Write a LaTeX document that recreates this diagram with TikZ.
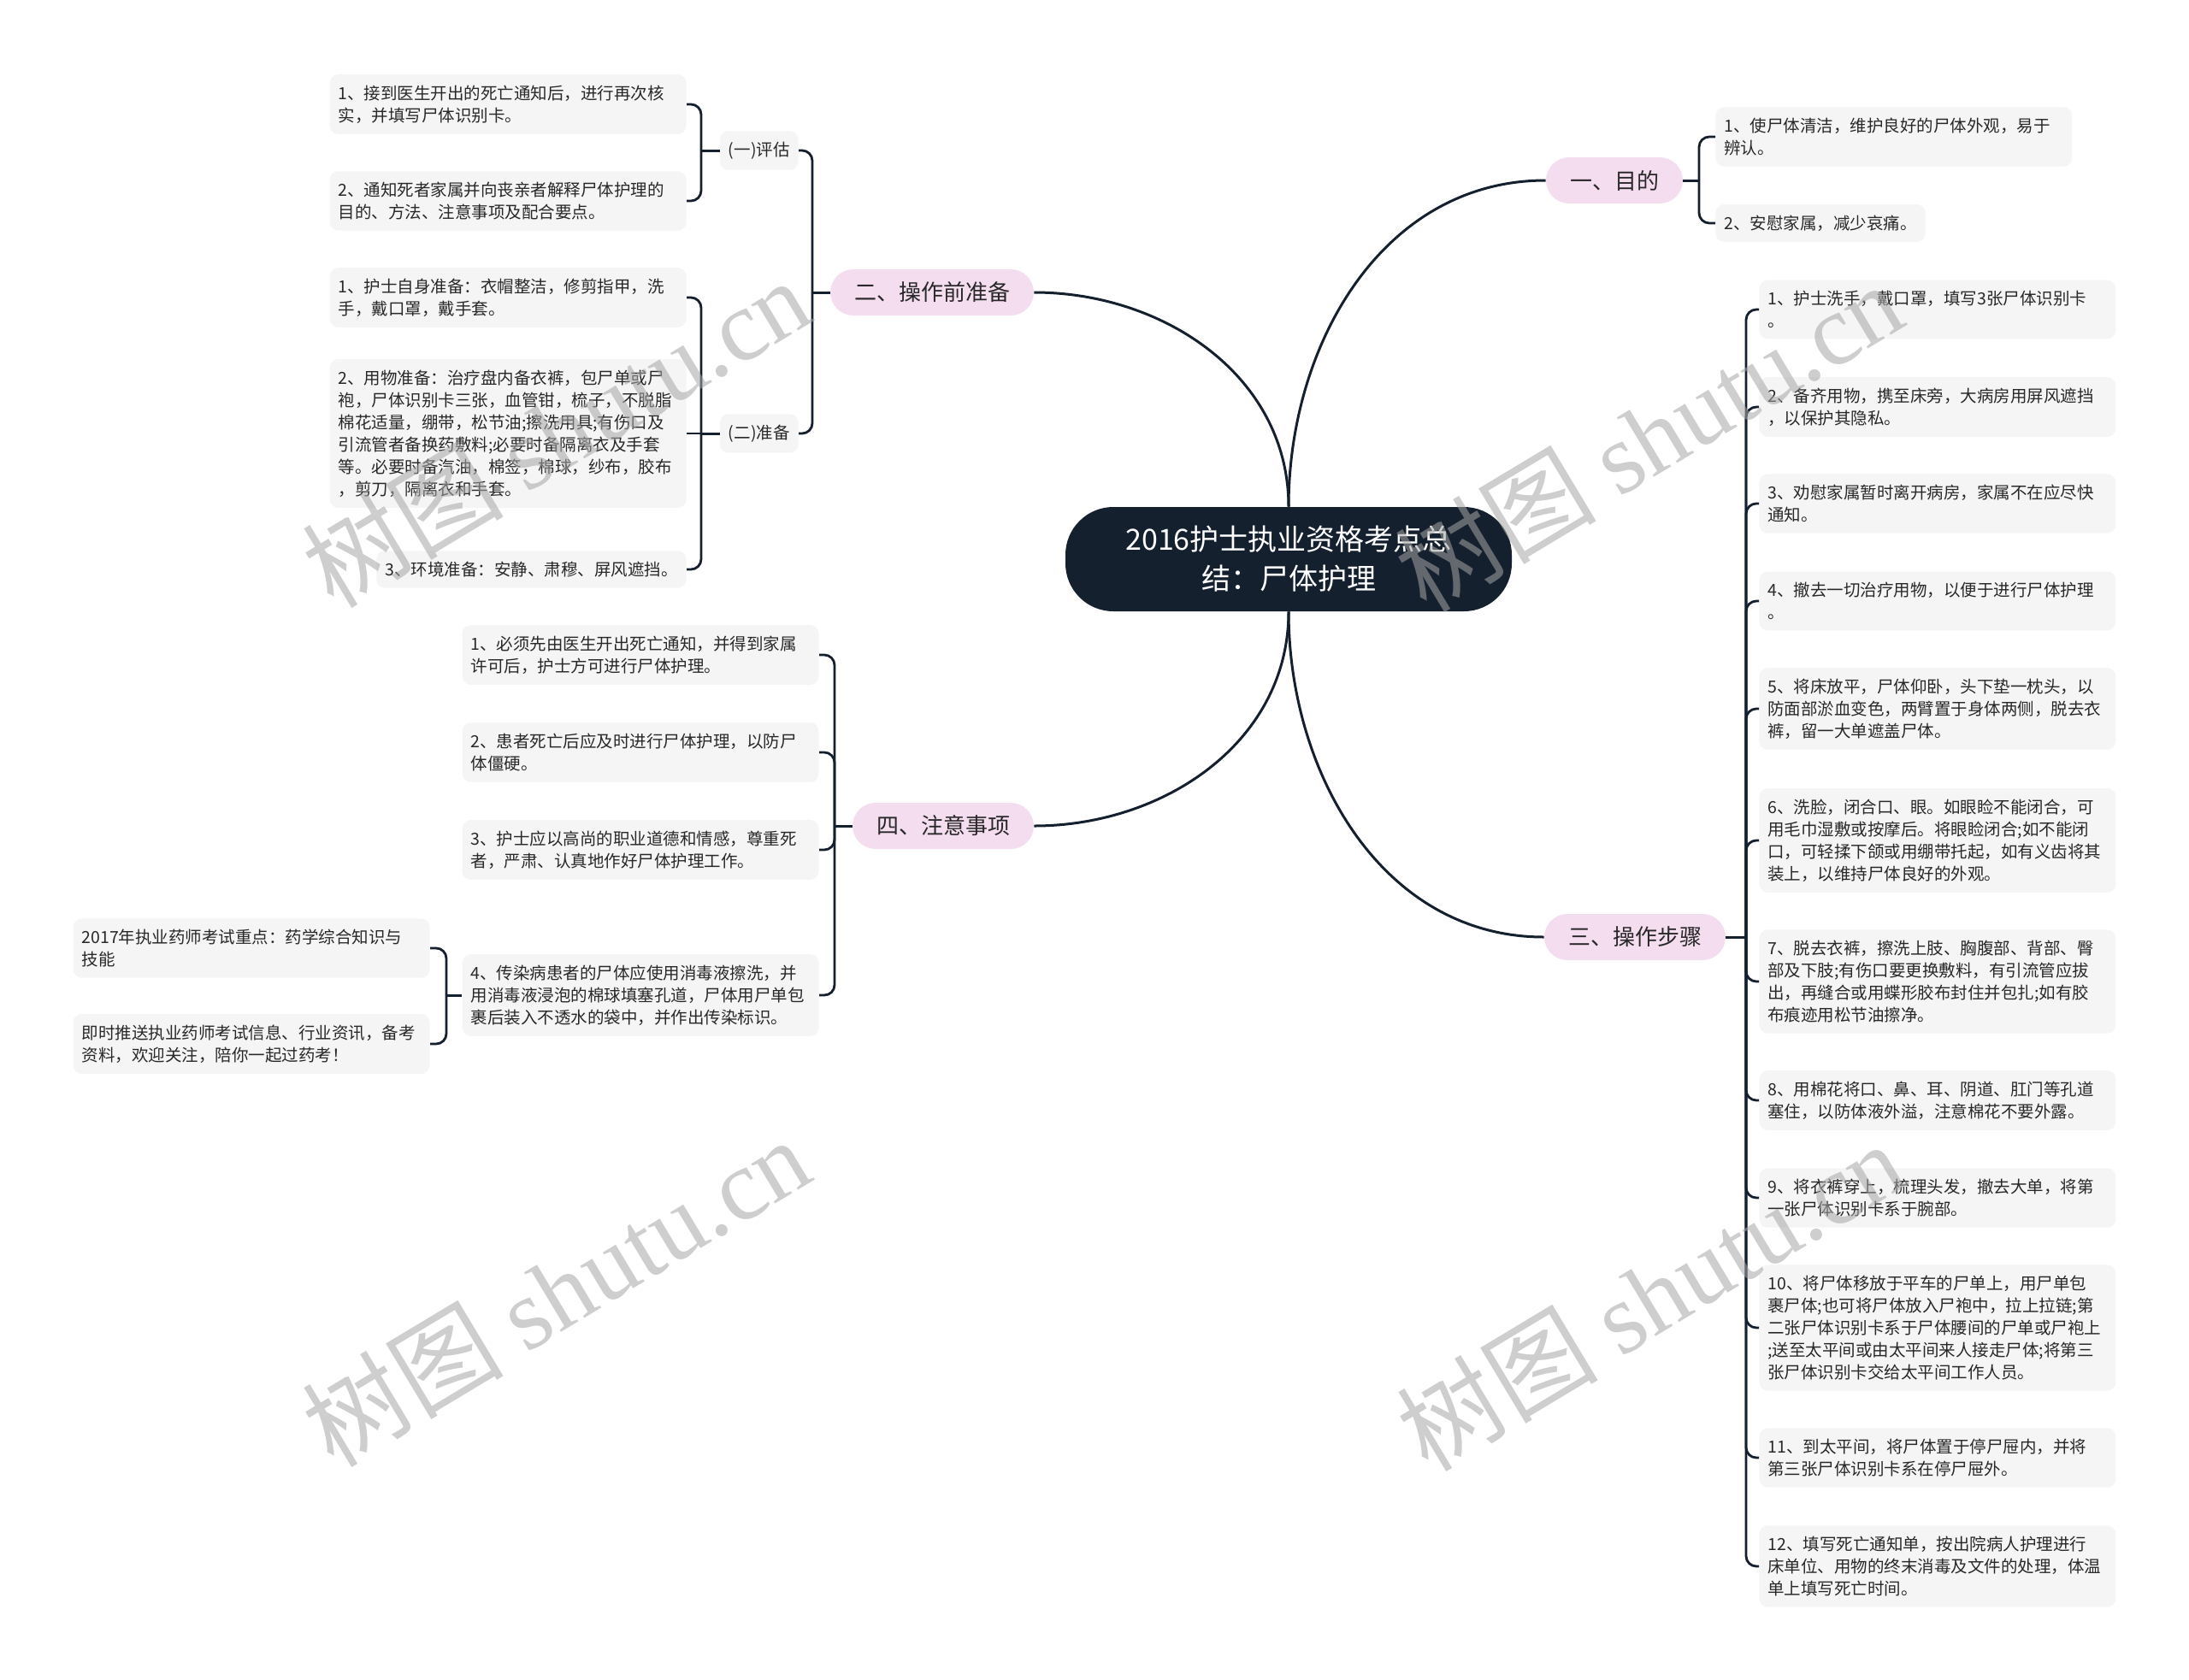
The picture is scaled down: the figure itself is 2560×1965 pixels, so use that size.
\documentclass[tikz,border=0pt]{standalone}
\usepackage{fontspec}
\setmainfont{Noto Sans CJK SC}
\newfontfamily\wmlatin{Liberation Serif}
\usetikzlibrary{positioning}
\definecolor{rootc}{RGB}{21,32,46}
\definecolor{linec}{RGB}{21,32,46}
\definecolor{topicc}{RGB}{245,221,240}
\definecolor{leafc}{RGB}{245,245,245}
\definecolor{txtc}{RGB}{40,40,40}
\begin{document}
\begin{tikzpicture}[x=0.5pt,y=-0.5pt,
	root/.style={ fill=rootc, text=white, rounded corners=28pt, minimum width=261pt, minimum height=61pt, align=center, inner sep=0pt, font=\fontsize{17pt}{23pt}\selectfont },
	topic/.style={ fill=topicc, text=txtc, rounded corners=13.5pt, minimum height=27pt, inner xsep=14pt, inner ysep=0pt, font=\fontsize{13pt}{16pt}\selectfont },
	leaf/.style={ fill=leafc, text=txtc, rounded corners=5pt, text width=198.5pt, inner xsep=5pt, inner ysep=6.3pt, align=left, font=\fontsize{9.75pt}{13pt}\selectfont },
	leafs/.style={ fill=leafc, text=txtc, rounded corners=5pt, inner xsep=5pt, inner ysep=6.3pt, font=\fontsize{9.75pt}{13pt}\selectfont },
	conn/.style={ draw=linec, line width=1.5pt },
	arm/.style={ draw=linec, line width=1.4pt, rounded corners=6pt },
	wmark/.style={ rotate=31, text=black!35, opacity=0.55, font=\fontsize{59pt}{59pt}\selectfont }
]
\useasboundingbox (0,0) rectangle (2560,1965);

% centre and main topics
\node at (1507,654) (root) [root] {2016护士执业资格考点总\\结：尸体护理};
\node at (1888,211) (t1) [topic] {一、目的};
\node at (1090,342) (t2) [topic] {二、操作前准备};
\node at (1912,1096) (t3) [topic] {三、操作步骤};
\node at (1103,966) (t4) [topic] {四、注意事项};
\draw[conn] (root.north) to [out=90,in=180] (t1.west);
\draw[conn] (root.north) to [out=90,in=0] (t2.east);
\draw[conn] (root.south) to [out=-90,in=180] (t3.west);
\draw[conn] (root.south) to [out=-90,in=0] (t4.east);

% 一、目的
\node at (2006,160) (m1) [leaf,anchor=west] {1、使尸体清洁，维护良好的尸体外观，易于\\辨认。};
\node at (2006,261) (m2) [leafs,anchor=west] {2、安慰家属，减少哀痛。};
\coordinate (j1) at (1987,211);
\draw[conn] (t1.east) -- (j1);
\foreach \c in {m1,m2} \draw[arm] (j1) |- (\c.west);

% 二、操作前准备
\node at (934,176) (p1) [leafs,anchor=east] {(一)评估};
\node at (934,507) (p2) [leafs,anchor=east] {(二)准备};
\coordinate (j2) at (950,342);
\draw[conn] (t2.west) -- (j2);
\foreach \c in {p1,p2} \draw[arm] (j2) |- (\c.east);

\node at (803,122) (e1) [leaf,anchor=east] {1、接到医生开出的死亡通知后，进行再次核\\实，并填写尸体识别卡。};
\node at (803,235) (e2) [leaf,anchor=east] {2、通知死者家属并向丧亲者解释尸体护理的\\目的、方法、注意事项及配合要点。};
\coordinate (jp1) at (820,176);
\draw[conn] (p1.west) -- (jp1);
\foreach \c in {e1,e2} \draw[arm] (jp1) |- (\c.east);

\node at (803,348) (z1) [leaf,anchor=east] {1、护士自身准备：衣帽整洁，修剪指甲，洗\\手，戴口罩，戴手套。};
\node at (803,507) (z2) [leaf,anchor=east] {2、用物准备：治疗盘内备衣裤，包尸单或尸\\袍，尸体识别卡三张，血管钳，梳子，不脱脂\\棉花适量，绷带，松节油;擦洗用具;有伤口及\\引流管者备换药敷料;必要时备隔离衣及手套\\等。必要时备汽油，棉签，棉球，纱布，胶布\\，剪刀，隔离衣和手套。};
\node at (803,666) (z3) [leafs,anchor=east] {3、环境准备：安静、肃穆、屏风遮挡。};
\coordinate (jp2) at (820,507);
\draw[conn] (p2.west) -- (jp2);
\draw[arm] (jp2) -- (z2.east);
\foreach \c in {z1,z3} \draw[arm] (jp2) |- (\c.east);

% 三、操作步骤
\node at (2057,362) (s1) [leaf,anchor=west] {1、护士洗手，戴口罩，填写3张尸体识别卡\\。};
\node at (2057,476) (s2) [leaf,anchor=west] {2、备齐用物，携至床旁，大病房用屏风遮挡\\，以保护其隐私。};
\node at (2057,589) (s3) [leaf,anchor=west] {3、劝慰家属暂时离开病房，家属不在应尽快\\通知。};
\node at (2057,703) (s4) [leaf,anchor=west] {4、撤去一切治疗用物，以便于进行尸体护理\\。};
\node at (2057,829) (s5) [leaf,anchor=west] {5、将床放平，尸体仰卧，头下垫一枕头，以\\防面部淤血变色，两臂置于身体两侧，脱去衣\\裤，留一大单遮盖尸体。};
\node at (2057,983) (s6) [leaf,anchor=west] {6、洗脸，闭合口、眼。如眼睑不能闭合，可\\用毛巾湿敷或按摩后。将眼睑闭合;如不能闭\\口，可轻揉下颌或用绷带托起，如有义齿将其\\装上，以维持尸体良好的外观。};
\node at (2057,1148) (s7) [leaf,anchor=west] {7、脱去衣裤，擦洗上肢、胸腹部、背部、臀\\部及下肢;有伤口要更换敷料，有引流管应拔\\出，再缝合或用蝶形胶布封住并包扎;如有胶\\布痕迹用松节油擦净。};
\node at (2057,1287) (s8) [leaf,anchor=west] {8、用棉花将口、鼻、耳、阴道、肛门等孔道\\塞住，以防体液外溢，注意棉花不要外露。};
\node at (2057,1401) (s9) [leaf,anchor=west] {9、将衣裤穿上，梳理头发，撤去大单，将第\\一张尸体识别卡系于腕部。};
\node at (2057,1553) (s10) [leaf,anchor=west] {10、将尸体移放于平车的尸单上，用尸单包\\裹尸体;也可将尸体放入尸袍中，拉上拉链;第\\二张尸体识别卡系于尸体腰间的尸单或尸袍上\\;送至太平间或由太平间来人接走尸体;将第三\\张尸体识别卡交给太平间工作人员。};
\node at (2057,1705) (s11) [leaf,anchor=west] {11、到太平间，将尸体置于停尸屉内，并将\\第三张尸体识别卡系在停尸屉外。};
\node at (2057,1832) (s12) [leaf,anchor=west] {12、填写死亡通知单，按出院病人护理进行\\床单位、用物的终末消毒及文件的处理，体温\\单上填写死亡时间。};
\coordinate (j3) at (2042,1096);
\draw[conn] (t3.east) -- (j3);
\foreach \i in {1,...,12} \draw[arm] (j3) |- (s\i.west);

% 四、注意事项
\node at (958,766) (n1) [leaf,anchor=east] {1、必须先由医生开出死亡通知，并得到家属\\许可后，护士方可进行尸体护理。};
\node at (958,880) (n2) [leaf,anchor=east] {2、患者死亡后应及时进行尸体护理，以防尸\\体僵硬。};
\node at (958,994) (n3) [leaf,anchor=east] {3、护士应以高尚的职业道德和情感，尊重死\\者，严肃、认真地作好尸体护理工作。};
\node at (958,1164) (n4) [leaf,anchor=east] {4、传染病患者的尸体应使用消毒液擦洗，并\\用消毒液浸泡的棉球填塞孔道，尸体用尸单包\\裹后装入不透水的袋中，并作出传染标识。};
\coordinate (j4) at (976,966);
\draw[conn] (t4.west) -- (j4);
\foreach \c in {n1,n2,n3,n4} \draw[arm] (j4) |- (\c.east);

\node at (503,1109) (x1) [leaf,anchor=east] {2017年执业药师考试重点：药学综合知识与\\技能};
\node at (503,1221) (x2) [leaf,anchor=east] {即时推送执业药师考试信息、行业资讯，备考\\资料，欢迎关注，陪你一起过药考！};
\coordinate (jn4) at (522,1164);
\draw[conn] (n4.west) -- (jn4);
\foreach \c in {x1,x2} \draw[arm] (jn4) |- (\c.east);

% watermarks
\node at (650,505) (wm1) [wmark] {树图 {\wmlatin shutu.cn}};
\node at (1928,510) (wm2) [wmark] {树图 {\wmlatin shutu.cn}};
\node at (650,1510) (wm3) [wmark] {树图 {\wmlatin shutu.cn}};
\node at (1930,1515) (wm4) [wmark] {树图 {\wmlatin shutu.cn}};

\end{tikzpicture}
\end{document}
